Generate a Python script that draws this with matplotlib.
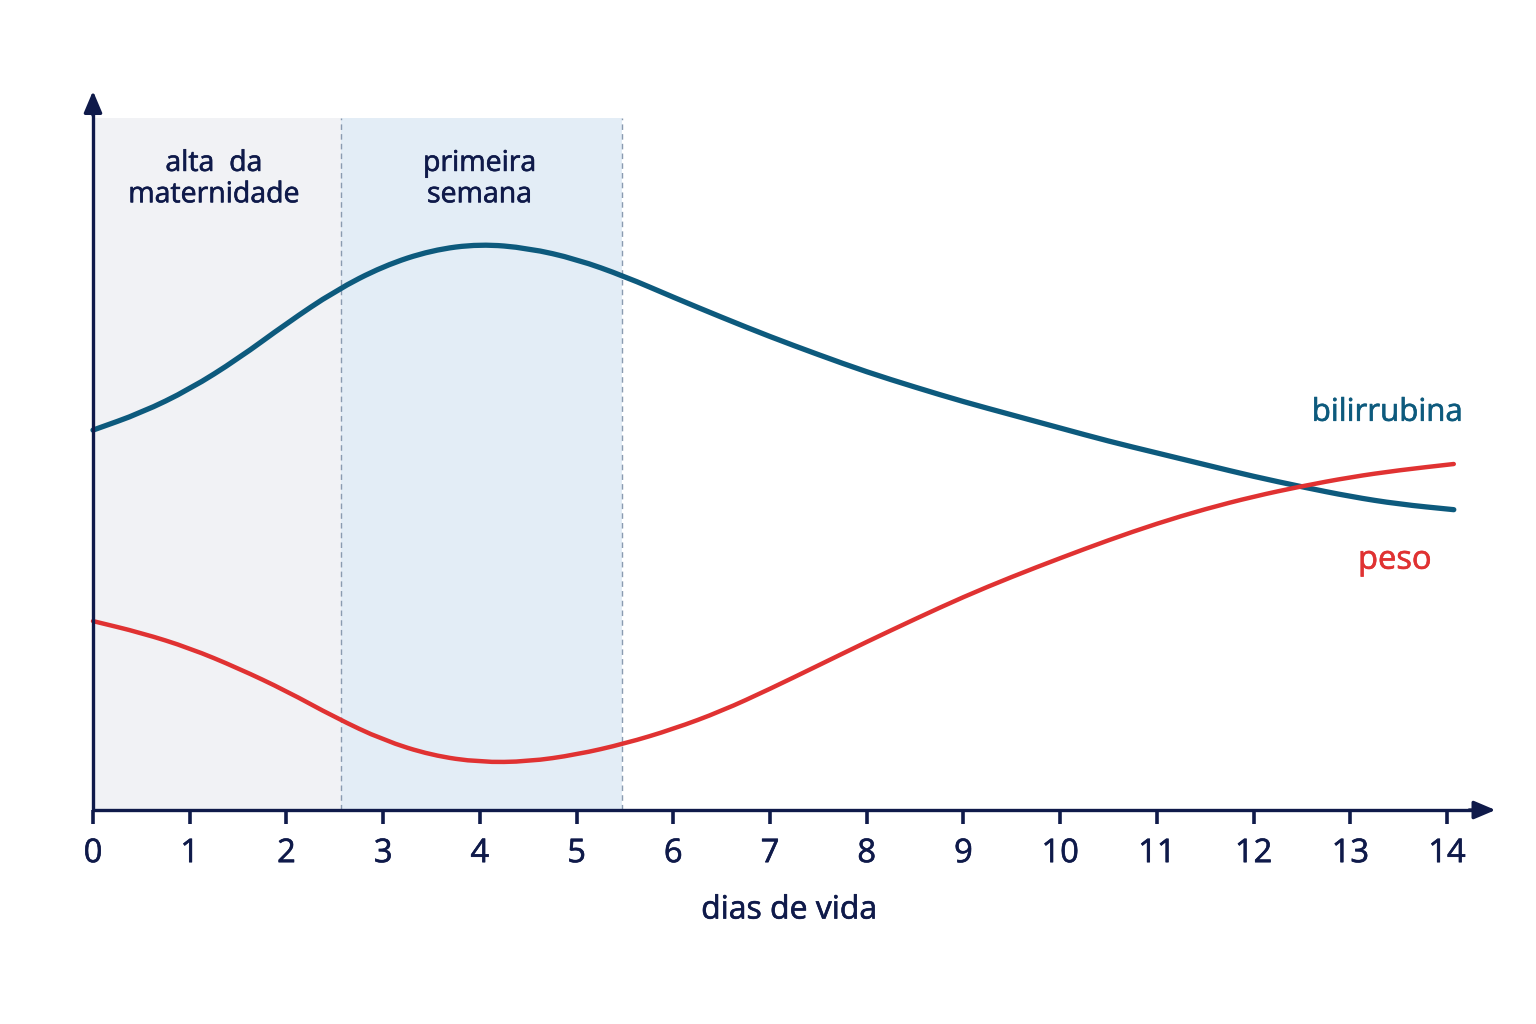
import numpy as np
import matplotlib
matplotlib.use("Agg")
import matplotlib.pyplot as plt
import matplotlib.patheffects as pe
from matplotlib.path import Path
from matplotlib.patches import PathPatch

plt.rcParams['font.family'] = ['Open Sans', 'DejaVu Sans']

# days of life and the two curves (arbitrary units, 0-100 = shaded height)
dias = [0, 0.5, 1, 1.5, 2, 2.5, 3, 3.5, 4, 4.5, 5, 5.5, 6, 6.5, 7, 7.5,
        8, 8.5, 9, 9.5, 10, 10.5, 11, 11.5, 12, 12.5, 13, 13.5, 14.07]
bilirrubina = [54.9, 57.4, 60.8, 65.2, 70.3, 75.0, 78.6, 80.9, 81.8, 81.2,
               79.6, 77.1, 74.1, 71.2, 68.4, 65.8, 63.3, 61.1, 59.0, 57.1,
               55.2, 53.3, 51.6, 49.9, 48.2, 46.7, 45.3, 44.2, 43.4]
peso = [27.3, 25.6, 23.4, 20.5, 17.2, 13.4, 10.1, 7.9, 6.9, 7.0,
        8.0, 9.6, 11.7, 14.3, 17.5, 20.9, 24.3, 27.6, 30.8, 33.7,
        36.4, 39.0, 41.4, 43.5, 45.3, 46.8, 48.1, 49.1, 50.0]

xticks = list(range(0, 15))
fase_alta = (0, 2.564)
fase_semana = (2.564, 5.47)

navy = '#0f1a4a'
c_bili = '#0d5a7d'
c_peso = '#e03232'


def smooth_path(xs, ys):
    # quadratic bezier through midpoints so the line reads as a smooth curve
    pts = np.column_stack([xs, ys])
    verts = [pts[0]]
    codes = [Path.MOVETO]
    mids = (pts[:-1] + pts[1:]) / 2
    verts.append(mids[0])
    codes.append(Path.LINETO)
    for i in range(1, len(pts) - 1):
        verts += [pts[i], mids[i]]
        codes += [Path.CURVE3, Path.CURVE3]
    verts.append(pts[-1])
    codes.append(Path.LINETO)
    return Path(verts, codes)


def heavy(color):
    return [pe.withStroke(linewidth=0.45, foreground=color)]


fig = plt.figure(figsize=(15.36, 10.24), dpi=100)
ax = fig.add_axes([0, 0, 1, 1])
ax.set_xlim(-0.9616, 14.92)
ax.set_ylim(-30.92, 117.05)
ax.axis('off')

# shaded phases
ax.axvspan(*fase_alta, ymin=(0 + 30.92) / 147.97, ymax=(100 + 30.92) / 147.97,
           color='#f1f2f5', lw=0, zorder=0)
ax.axvspan(*fase_semana, ymin=(0 + 30.92) / 147.97, ymax=(100 + 30.92) / 147.97,
           color='#e3edf6', lw=0, zorder=0)
for xv in (fase_alta[1], fase_semana[1]):
    ax.plot([xv, xv], [0, 100], color='#8a9bb0', lw=1, dashes=(4, 3), zorder=1)

ax.text(np.mean(fase_alta) - 0.03, 91.1, 'alta  da\nmaternidade', ha='center',
        va='center', fontsize=20.5, color=navy, linespacing=1.16,
        path_effects=heavy(navy))
ax.text(np.mean(fase_semana) - 0.02, 91.1, 'primeira\nsemana', ha='center',
        va='center', fontsize=20.5, color=navy, linespacing=1.16,
        path_effects=heavy(navy))

# curves
ax.add_patch(PathPatch(smooth_path(dias, bilirrubina), facecolor='none',
                       edgecolor=c_bili, lw=3.8, capstyle='round', zorder=3))
ax.add_patch(PathPatch(smooth_path(dias, peso), facecolor='none',
                       edgecolor=c_peso, lw=3.2, capstyle='round', zorder=3))

ax.text(14.16, 57.4, 'bilirrubina', ha='right', va='center', fontsize=22.5,
        color=c_bili, path_effects=heavy(c_bili))
ax.text(13.46, 36.1, 'peso', ha='center', va='center', fontsize=23.5,
        color=c_peso, path_effects=heavy(c_peso))

# axes with arrows
ax.plot([0, 14.3], [0, 0], color=navy, lw=2.4, zorder=4, solid_capstyle='butt')
ax.plot([0, 0], [0, 101], color=navy, lw=2.4, zorder=4, solid_capstyle='butt')
ax.annotate('', xy=(14.53, 0), xytext=(14.2, 0),
            arrowprops=dict(arrowstyle='-|>,head_length=1.3,head_width=0.55',
                            color=navy, lw=2.4), zorder=5)
ax.annotate('', xy=(0, 104.3), xytext=(0, 100),
            arrowprops=dict(arrowstyle='-|>,head_length=1.3,head_width=0.55',
                            color=navy, lw=2.4), zorder=5)

ax.vlines(xticks, -2.0, 0, color=navy, lw=2.6, zorder=4)
for t in xticks:
    ax.text(t, -6.3, str(t), ha='center', va='center', fontsize=23.5, color=navy,
            path_effects=heavy(navy))

ax.text(7.2, -14.45, 'dias de vida', ha='center', va='center', fontsize=23,
        color=navy, path_effects=heavy(navy))

fig.savefig('out.png', dpi=100, facecolor='white')
